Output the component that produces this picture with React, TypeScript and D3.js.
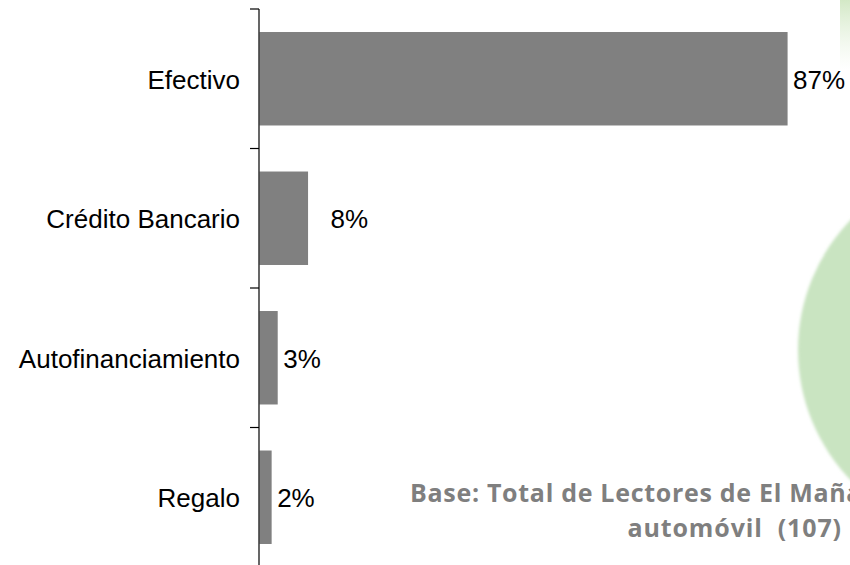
import React from "react";
import * as d3 from "d3";

const categories = ["Efectivo", "Crédito Bancario", "Autofinanciamiento", "Regalo"];
const values = [87, 8, 3, 2];
const valueLabels = ["87%", "8%", "3%", "2%"];
const baseLine1 = "Base: Total de Lectores de El Mañana que compraron";
const baseLine2 = "automóvil  (107)";

const W = 850;
const H = 565;

export default function App() {
  const y = d3.scaleBand<string>().domain(categories).range([9, 567]).paddingInner(0).paddingOuter(0);
  const x = d3.scaleLinear().domain([0, 100]).range([259, 866]);
  const bw = y.bandwidth();
  const barH = bw * 0.67;
  const boundaries = categories.map((c) => y(c) as number).concat([567]);
  const font = "'Liberation Sans', Arial, sans-serif";
  const baseFont = "'Open Sans', Lato, sans-serif";

  return (
    <svg
      width={W}
      height={H}
      viewBox={`0 0 ${W} ${H}`}
      style={{ position: "fixed", left: 0, top: 0, display: "block", background: "#fff" }}
    >
      <defs>
        <linearGradient id="topband" x1="0" y1="0" x2="0" y2="1">
          <stop offset="0" stopColor="#d3e8c6" stopOpacity="1" />
          <stop offset="1" stopColor="#e6f2de" stopOpacity="0" />
        </linearGradient>
        <filter id="soft" x="-10%" y="-10%" width="120%" height="120%">
          <feGaussianBlur stdDeviation="1.5" />
        </filter>
      </defs>
      <rect x={0} y={0} width={W} height={H} fill="#fff" />
      <circle cx={985} cy={350} r={187} fill="#c9e4c1" filter="url(#soft)" />
      <rect x={840} y={0} width={10} height={70} fill="url(#topband)" />

      {categories.map((c, i) => {
        const y0 = (y(c) as number) + (bw - barH) / 2;
        return (
          <rect key={c} x={x(0) + 0.5} y={y0} width={x(values[i]) - x(0)} height={barH} fill="#808080" />
        );
      })}

      <line x1={259} y1={9} x2={259} y2={567} stroke="#000" strokeWidth={1.2} />
      {boundaries.map((b, i) => (
        <line key={i} x1={250} y1={b} x2={259} y2={b} stroke="#000" strokeWidth={1.2} />
      ))}

      {categories.map((c) => (
        <text
          key={c}
          x={240}
          y={(y(c) as number) + bw / 2 + 1}
          dy="0.35em"
          textAnchor="end"
          fontFamily={font}
          fontSize={26}
          fill="#000"
        >
          {c}
        </text>
      ))}

      {categories.map((c, i) => (
        <text
          key={c}
          x={x(values[i]) + (i === 1 ? 23 : 6)}
          y={(y(c) as number) + bw / 2 + 1}
          dy="0.35em"
          textAnchor="start"
          fontFamily={font}
          fontSize={26}
          fill="#000"
        >
          {valueLabels[i]}
        </text>
      ))}

      <text x={410} y={502} fontFamily={baseFont} fontWeight={700} fontSize={25} letterSpacing={0.7} fill="#7f7f7f">
        {baseLine1}
      </text>
      <text
        x={842}
        y={537}
        textAnchor="end"
        fontFamily={baseFont}
        fontWeight={700}
        fontSize={25}
        letterSpacing={0.9}
        fill="#7f7f7f"
        style={{ whiteSpace: "pre" }}
      >
        {baseLine2}
      </text>
    </svg>
  );
}
